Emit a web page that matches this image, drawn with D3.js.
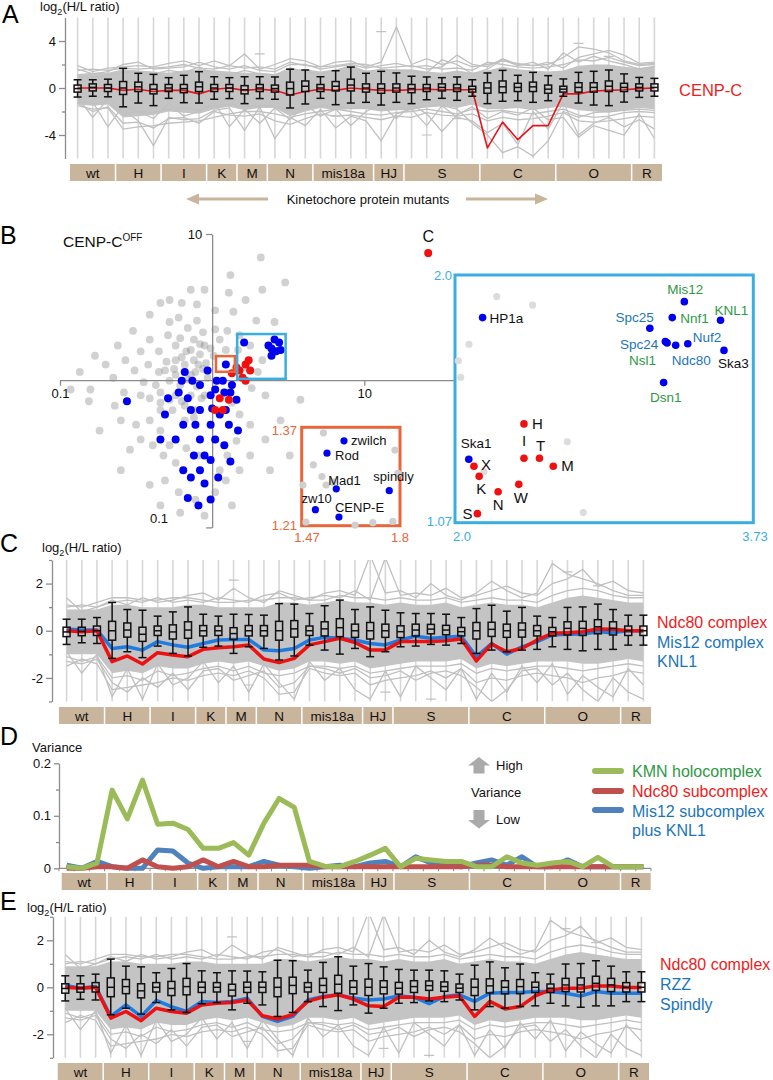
<!DOCTYPE html>
<html>
<head>
<meta charset="utf-8">
<script src="https://cdn.jsdelivr.net/npm/d3@7"></script>
<style>
body { margin: 0; background: #fff; }
svg { font-family: "Liberation Sans", Arial, sans-serif; }
.axis path, .axis line { stroke: #8c8c8c; stroke-width: 1.3; }
.axis text { font-size: 13px; fill: #111; font-family: "Liberation Sans", Arial, sans-serif; }
</style>
</head>
<body>
<script>
const W = 773, H = 1080;

// ---- mutant groups (shared by A, C, D, E) ----
const groups = ['wt', 'H', 'I', 'K', 'M', 'N', 'mis18a', 'HJ', 'S', 'C', 'O', 'R'];
const groupCols = [3, 3, 3, 2, 2, 3, 4, 2, 5, 5, 5, 2];
const nCols = d3.sum(groupCols);

// ---- panel A : log2(H/L), CENP-C off ----
const aHi  = [0.70,0.70,0.75, 1.67,1.25,1.16, 0.88,1.08,1.39, 0.96,0.88, 0.96,0.96, 0.94,1.60,1.53, 0.96,1.47,1.78,1.25, 1.42,1.28, 1.00,0.94,0.88,0.94,0.70, 1.28,1.50,1.08,1.33,1.05, 0.77,1.33,1.42,1.53,1.20, 0.90,0.82];
const aQ3  = [0.25,0.35,0.3, 0.55,0.5,0.3, 0.3,0.3,0.5, 0.3,0.3, 0.2,0.3, 0.25,0.5,0.6, 0.3,0.55,0.75,0.35, 0.35,0.35, 0.3,0.3,0.35,0.3,0.15, 0.45,0.6,0.4,0.5,0.25, 0.15,0.45,0.45,0.6,0.4, 0.35,0.35];
const aMed = [-0.05,0.05,0, 0,0.1,-0.1, 0,-0.05,0.1, 0,0, -0.15,0, -0.05,-0.05,0.15, 0,0.15,0.25,0, -0.05,0, -0.05,0,0.05,0,-0.1, 0,0.1,0.05,0.1,-0.1, -0.1,0.05,0.05,0.15,0.05, 0.05,0.05];
const aQ1  = [-0.35,-0.25,-0.3, -0.55,-0.3,-0.5, -0.3,-0.4,-0.3, -0.3,-0.3, -0.5,-0.3, -0.35,-0.6,-0.3, -0.3,-0.25,-0.25,-0.35, -0.45,-0.35, -0.4,-0.3,-0.25,-0.3,-0.35, -0.45,-0.4,-0.3,-0.3,-0.45, -0.35,-0.35,-0.35,-0.3,-0.3, -0.25,-0.25];
const aLo  = [-0.77,-0.70,-0.75, -1.60,-1.28,-1.50, -0.88,-1.25,-1.28, -0.96,-0.90, -1.33,-0.90, -0.96,-1.70,-1.36, -0.88,-1.42,-1.28,-1.22, -1.45,-1.22, -1.33,-1.00,-0.88,-1.05,-0.70, -1.33,-1.13,-1.08,-1.22,-1.08, -0.70,-1.28,-1.45,-1.50,-1.20, -0.80,-0.70];
const aBandHi = [1.2,1.3,1.3, 1.6,1.5,1.4, 1.3,1.5,1.6, 1.5,1.4, 1.3,1.3, 1.2,1.6,1.6, 1.4,1.6,1.8,1.5, 1.5,1.6, 1.6,1.4,1.3,1.5,1.3, 1.5,1.8,1.6,1.5,1.4, 1.5,1.9,2.0,2.0,1.8, 1.7,1.9];
const aBandLo = [-1.4,-1.5,-1.4, -2.5,-2.4,-2.3, -2.0,-2.1,-2.2, -1.8,-1.6, -1.9,-1.7, -1.7,-2.4,-2.0, -1.7,-1.9,-1.8,-1.8, -2.0,-1.9, -1.9,-1.6,-1.5,-1.7,-1.4, -1.8,-1.8,-1.7,-1.9,-1.7, -1.6,-1.9,-2.0,-2.1,-1.9, -1.7,-1.8];
const aGray = [
  [-1.5,-1.8,-1.7, -3.5,-3.3,-3.2, -3.0,-2.9,-2.8, -2.5,-2.2, -2.0,-2.0, -2.2,-2.5,-2.2, -2.0,-1.8,-2.0,-2.2, -2.3,-2.1, -2.0,-1.8,-2.0,-2.2,-1.8, -2.0,-1.9,-2.1,-2.2,-2.0, -1.8,-2.3,-2.5,-2.4,-2.1, -2.0,-2.1],
  [-0.8,-2.5,-0.9, -1.8,-2.8,-4.9, -2.5,-2.7,-2.6, -1.9,-1.7, -3.6,-1.6, -4.3,-2.5,-3.2, -1.8,-3.4,-2.4,-2.8, -4.5,-2.2, -1.8,-3.2,-1.5,-2.5,-2.8, -3.8,-3.0,-4.8,-2.0,-3.5, -1.2,-4.0,-3.0,-2.5,-3.3, -2.7,-3.5],
  [1.9,1.4,1.7, 1.8,1.9,1.8, 2.1,2.3,1.9, 2.3,1.9, 2.9,1.6, 2.0,2.5,2.3, 1.8,2.2,2.3,1.8, 2.2,5.2, 2.0,2.5,2.0,2.3,1.8, 2.0,2.3,2.1,1.9,2.0, 2.6,3.5,3.3,3.0,2.3, 2.0,2.1],
  [1.5,1.6,1.5, 1.7,1.6,1.7, 1.8,2.0,1.7, 1.6,1.9, 1.7,1.8, 1.6,2.2,1.9, 1.8,1.9,2.1,2.0, 1.7,1.8, 1.9,1.6,1.8,2.8,2.0, 1.8,2.5,2.0,1.9,2.2, 1.7,2.6,2.9,3.2,2.8, 2.1,2.2],
  [-1.2,-1.3,-1.2, -2.2,-2.0,-2.1, -1.8,-1.7,-1.9, -1.5,-1.4, -1.6,-1.5, -1.5,-1.9,-1.7, -1.5,-1.6,-1.7,-1.6, -1.8,-1.7, -1.7,-1.6,-1.5,-1.8,-3.0, -4.0,-5.5,-5.0,-5.8,-4.5, -2.0,-2.5,-2.1,-2.0,-1.9, -1.8,-1.9],
  [-1.0,-1.2,-3.3, -1.5,-2.0,-2.6, -1.3,-2.4,-2.0, -1.2,-3.3, -1.8,-3.0, -1.7,-2.7,-1.4, -2.4,-1.8,-3.2,-2.0, -1.4,-2.6, -1.4,-2.2,-3.7,-2.3,-1.6, -2.6,-2.0,-2.3,-1.7,-2.7, -2.5,-4.2,-3.2,-3.6,-4.0, -2.2,-4.3],
  [1.0,0.9,1.1, 1.3,1.4,1.2, 1.5,1.3,1.8, 1.2,1.1, 1.5,1.2, 1.1,1.7,1.4, 1.2,1.5,1.9,1.4, 1.6,1.5, 1.4,1.3,2.4,2.0,1.2, 1.6,2.4,1.9,2.2,1.6, 3.0,2.2,2.7,2.3,2.0, 1.6,1.8],
  [-1.3,-2.0,-1.6, -3.0,-2.9,-3.4, -2.6,-2.5,-3.0, -2.0,-2.3, -2.4,-2.2, -2.8,-3.1,-2.6, -2.2,-2.4,-2.3,-2.5, -2.7,-2.4, -2.5,-2.1,-2.3,-2.4,-2.2, -2.8,-2.5,-2.7,-2.6,-2.4, -2.1,-2.8,-2.9,-2.8,-2.6, -2.4,-2.5],
  [1.6,1.2,1.4, 2.0,2.2,1.6, 1.7,1.8,2.2, 1.8,1.6, 1.9,1.5, 1.4,2.0,2.0, 1.6,1.8,2.0,1.7, 1.9,2.1, 1.8,1.9,1.6,1.7,1.5, 2.2,2.0,1.8,1.7,1.8, 2.0,2.4,2.3,2.6,2.2, 1.9,2.0]
];
const aDashCols = [12, 20, 17, 23, 33, 35, 25];
const aDashVals = [2.9, 4.8, -2.4, -4.0, 3.8, 2.7, -2.6];
const aCenpC = [0,0,0, -0.2,-0.1,-0.3, -0.2,-0.2,-0.5, -0.1,0, -0.2,-0.1, -0.2,-0.6,-0.3, -0.1,-0.2,0,-0.1, -0.2,-0.2, -0.15,-0.1,-0.15,-0.15,-0.15, -5.1,-2.9,-4.4,-3.2,-3.2, -0.5,-0.5,-0.25,-0.2,-0.15, -0.05,0];

// ---- panels C and E share the proteome distribution ----
const ceHi  = [0.49,0.49,0.56, 1.2,0.9,0.87, 0.62,0.8,1.01, 0.7,0.62, 0.7,0.69, 0.66,1.15,1.13, 0.73,1.06,1.3,0.9, 1.01,0.87, 0.76,0.73,0.73,0.7,0.56, 0.94,1.08,0.83,0.99,0.62, 0.56,0.99,1.01,1.13,0.9, 0.66,0.66];
const ceQ3  = [0.15,0.15,0.2, 0.4,0.33,0.15, 0.2,0.25,0.38, 0.22,0.2, 0.13,0.22, 0.22,0.4,0.43, 0.2,0.38,0.51,0.28, 0.35,0.28, 0.21,0.28,0.27,0.23,0.14, 0.35,0.36,0.28,0.33,0.22, 0.14,0.38,0.4,0.47,0.38, 0.2,0.2];
const ceMed = [-0.05,-0.03,0, 0,0.03,-0.15, 0,-0.05,0.03, 0,0, -0.12,0, 0,0,0.08, 0,0.08,0.13,0, 0,0, -0.04,0.03,0.07,0.03,-0.04, 0,0.06,0,0.03,0, -0.04,0.1,0.1,0.17,0.1, 0,0];
const ceQ1  = [-0.25,-0.21,-0.2, -0.4,-0.27,-0.45, -0.2,-0.35,-0.32, -0.22,-0.2, -0.37,-0.22, -0.22,-0.4,-0.27, -0.2,-0.22,-0.25,-0.28, -0.35,-0.28, -0.29,-0.22,-0.13,-0.17,-0.22, -0.35,-0.24,-0.28,-0.27,-0.22, -0.22,-0.18,-0.2,-0.13,-0.18, -0.2,-0.2];
const ceLo  = [-0.58,-0.51,-0.54, -1.17,-0.89,-1.14, -0.65,-0.96,-1.07, -0.7,-0.65, -0.96,-0.68, -0.75,-1.24,-1.07, -0.61,-0.82,-0.99,-0.75, -1.1,-0.89, -0.68,-0.65,-0.58,-0.61,-0.54, -0.96,-0.82,-0.89,-0.82,-0.79, -0.68,-0.79,-0.85,-0.79,-0.79, -0.61,-0.61];
const ceBandHi = [0.9,0.9,0.9, 1.1,1.1,1.0, 1.0,1.0,1.1, 1.1,1.0, 1.0,1.0, 1.0,1.2,1.2, 1.1,1.2,1.3,1.2, 1.2,1.1, 1.2,1.1,1.1,1.2,1.0, 1.1,1.2,1.1,1.1,1.0, 1.2,1.4,1.5,1.4,1.3, 1.2,1.2];
const ceBandLo = [-1.0,-1.0,-1.0, -1.8,-1.7,-1.8, -1.5,-1.6,-1.6, -1.4,-1.3, -1.4,-1.3, -1.5,-1.7,-1.6, -1.3,-1.3,-1.4,-1.3, -1.6,-1.5, -1.4,-1.3,-1.3,-1.3,-1.2, -1.6,-1.4,-1.5,-1.4,-1.3, -1.3,-1.3,-1.4,-1.4,-1.3, -1.2,-1.3];
const ceGray = [
  [-1.5,-1.2,-1.4, -2.5,-2.4,-2.3, -2.2,-2.0,-2.1, -1.9,-1.8, -1.9,-1.7, -2.0,-2.7,-2.6, -1.6,-1.8,-1.9,-1.8, -2.3,-2.1, -2.0,-1.9,-1.7,-2.0,-1.6, -2.2,-2.0,-2.1,-1.9,-1.8, -1.9,-2.0,-2.2,-2.0,-1.9, -1.7,-1.8],
  [-0.9,-1.8,-1.0, -2.8,-1.6,-2.9, -1.4,-2.3,-2.0, -1.3,-2.2, -1.5,-2.6, -1.4,-2.2,-2.9, -1.3,-2.1,-1.6,-2.5, -2.9,-1.7, -2.8,-1.5,-2.0,-2.5,-1.6, -2.9,-1.8,-2.6,-1.5,-2.2, -1.4,-2.7,-1.9,-2.4,-2.8, -1.6,-2.3],
  [1.4,0.8,1.0, 1.3,1.1,1.4, 1.2,1.3,1.5, 1.6,1.3, 1.8,1.4, 1.2,1.7,1.5, 1.3,1.6,1.7,1.5, 3.2,1.6, 1.7,1.4,2.0,1.5,1.3, 1.6,2.1,1.7,1.4,1.6, 2.85,2.4,2.2,2.0,1.7, 1.5,1.5],
  [1.0,1.1,1.0, 1.2,1.3,1.2, 1.4,1.2,1.3, 1.2,1.4, 1.3,1.2, 1.5,1.6,1.3, 1.4,1.5,1.4,1.7, 1.3,3.1, 1.5,1.6,1.5,1.8,1.4, 1.5,1.7,1.9,1.6,1.5, 2.0,2.2,2.6,1.9,2.1, 1.7,1.6],
  [-1.3,-1.4,-1.2, -2.2,-2.6,-2.0, -2.4,-1.8,-2.5, -1.7,-1.6, -2.1,-1.9, -1.7,-2.4,-2.2, -1.5,-1.6,-1.8,-1.6, -2.0,-1.9, -1.7,-2.1,-1.8,-1.7,-1.9, -2.4,-3.0,-2.5,-1.7,-1.6, -2.3,-1.8,-2.5,-3.0,-2.0, -2.6,-2.9],
  [-1.1,-1.3,-1.1, -2.0,-1.9,-2.1, -1.7,-1.9,-1.8, -1.6,-1.5, -1.7,-1.5, -1.8,-1.9,-1.8, -1.5,-1.5,-1.6,-1.5, -1.8,-1.7, -1.6,-1.5,-1.5,-1.5,-1.4, -1.8,-1.6,-1.7,-1.6,-1.5, -1.5,-1.6,-1.7,-1.6,-1.5, -1.4,-1.5],
  [1.1,1.0,1.2, 1.4,1.4,1.3, 1.3,1.4,1.4, 1.3,1.2, 1.2,1.3, 1.3,1.4,1.4, 1.3,1.3,1.5,1.4, 1.4,1.3, 1.4,1.3,1.3,1.4,1.2, 1.3,1.4,1.3,1.3,1.2, 1.5,1.7,1.8,1.7,1.5, 1.4,1.4]
];
const ceDashCols = [11, 21, 24, 33, 35, 12];
const ceDashVals = [2.15, -2.6, -2.9, 2.5, 1.9, -2.3];

// C: KMN members
const cNdc80 = [0,-0.04,0, -1.31,-1.07,-1.41, -0.93,-1.03,-1.1, -0.79,-0.72, -0.68,-0.6, -1.2,-1.35,-1.17, -0.6,-0.46,-0.32,-0.5, -0.82,-0.82, -0.46,-0.46,-0.46,-0.42,-0.35, -1.28,-0.56,-0.89,-0.75,-0.39, -0.11,-0.08,-0.04,0.07,0.06, 0,0];
const cMis12 = [0.07,0.03,0.03, -0.75,-0.68,-0.82, -0.46,-0.6,-0.7, -0.54,-0.39, -0.37,-0.37, -0.82,-0.85,-0.75, -0.39,-0.28,-0.32,-0.39, -0.54,-0.6, -0.39,-0.23,-0.32,-0.28,-0.23, -1.1,-0.54,-0.99,-0.68,-0.46, -0.18,-0.15,-0.14,-0.04,-0.08, 0,0];
// E: Ndc80 vs RZZ/Spindly
const eNdc80 = [0,-0.04,0, -1.31,-1.03,-1.42, -0.89,-1.03,-1.1, -0.75,-0.68, -0.65,-0.54, -1.21,-1.35,-1.17, -0.6,-0.42,-0.32,-0.5, -0.79,-0.82, -0.42,-0.42,-0.5,-0.42,-0.37, -1.24,-0.6,-0.92,-0.82,-0.37, -0.11,-0.04,-0.04,0.06,0.06, -0.01,-0.01];
const eRZZ = [0.08,-0.04,0.03, -1.24,-0.75,-1.24, -0.56,-0.82,-1.03, -0.6,-0.65, -0.6,-0.46, -1.24,-1.45,-1.24, -0.54,-0.39,-0.32,-0.46, -0.54,-0.5, -0.37,-0.42,-0.7,-0.39,-0.32, -0.6,-0.25,-0.22,-0.22,-0.18, -0.18,-0.25,-0.37,-0.18,-0.25, -0.25,-0.25];

// ---- panel D : variance ----
const dKMN   = [0.003,0,0.01, 0.149,0.094,0.168, 0.084,0.086,0.074, 0.038,0.038, 0.049,0.025, 0.086,0.133,0.116, 0.013,0.004,0.003,0.013, 0.025,0.038, 0.003,0.019,0.016,0.013,0.013, 0.003,0.003,0.022,0.010,0.006, 0.010,0.013,0.003,0.021,0.003, 0.003,0.003];
const dNdc80 = [0,0,0.003, 0.003,0,0.016, 0.003,0,0.003, 0.016,0.003, 0.013,0.003, 0.003,0.006,0.006, 0.006,0.003,0.003,0.003, 0.003,0.003, 0.003,0.003,0.003,0.003,0.003, 0.006,0.006,0.003,0.003,0.003, 0.003,0.003,0.003,0.003,0.003, 0.003,0.003];
const dMis12 = [0.006,0,0.013, 0.003,0,0, 0.035,0.033,0.01, 0,0.003, 0.003,0.003, 0.013,0.006,0.003, 0,0.003,0.006,0.003, 0.01,0.013, 0.003,0.022,0.01,0.01,0.003, 0.01,0.016,0.006,0.022,0.003, 0.003,0.016,0.003,0.003,0.003, 0.003,0.003];

// ---- panel B : scatter, log10(H/L) of CENP-C off vs. other mutants ----
const grayLog = [[0.32,0.84],[0.48,0.67],[0.12,0.72],[-0.2,0.53],[-0.1,0.52],[0.11,0.6],[0.14,0.47],[0.29,0.41],[0.41,0.4],[-0.34,0.53],
  [-0.28,0.4],[-0.21,0.29],[-0.1,0.41],[-0.05,0.24],[-0.41,0.28],[-0.47,0.2],[-0.57,0.14],[-0.65,0.02],[-0.8,-0.06],[-0.58,-0.08],
  [-0.47,-0.1],[-0.37,-0.03],[-0.31,0.07],[-0.24,0.14],[-0.18,0.11],[-0.11,0.06],[-0.08,0.18],[0.09,0.21],[0.22,0.09],[0.26,-0.05],
  [0.35,-0.1],[-0.41,-0.27],[-0.34,-0.34],[-0.28,-0.44],[-0.47,-0.4],[-0.54,-0.47],[-0.11,-0.81],[-0.05,-0.92],[0.09,-0.68],[0.18,-0.61],
  [0.35,-0.4],[0.45,-0.27],[0.58,-0.13],[-0.6,-0.27],[-0.74,-0.34],[-0.31,-0.68],[-0.18,-0.27],[-0.11,-0.2],[-0.05,-0.1],[-0.21,-0.03],
  [-0.14,-0.1],[-0.28,-0.13],[-0.34,-0.2],[-0.24,0.04],[-0.14,0.21],[0.02,0.35],[0.18,0.31],
  [-0.29,0.31],[-0.24,0.24],[-0.17,0.2],[-0.12,0.28],[-0.06,0.33],[-0.01,0.22],[-0.16,0.36],[-0.22,0.43],[-0.35,0.2],[-0.3,0.13],
  [-0.35,0.06],[-0.42,0.11],[-0.51,0.07],[-0.45,-0.01],[-0.28,0],[-0.34,-0.08],[-0.24,-0.1],[-0.18,-0.17],[-0.26,-0.2],[-0.34,-0.15],
  [-0.41,-0.12],[-0.14,0.04],[-0.09,0.11],[-0.03,0.02],[-0.07,-0.12],[0.01,0.17],[0.05,0.28],[0.1,0.34],[0.17,0.21],[0.25,0.24],
  [0.33,0.14],[0.3,0.06],[0.13,-0.15],[0.18,-0.23],[0.25,-0.3],[0.16,-0.41],[0.25,-0.51],[0.1,-0.51],[0.05,-0.61],[-0.09,-0.51],
  [-0.17,-0.46],[-0.24,-0.56],[-0.32,-0.51],[-0.39,-0.44],[-0.5,-0.3],[-0.64,-0.17],[-0.7,0.11],[-0.77,0.17],[-0.87,0.06],[-0.81,-0.14],
  [-0.93,-0.06],[-0.41,-0.71],[-0.22,-0.76],[0.02,-0.76],[0.13,-0.85],[-0.21,-0.9],[-0.34,-0.85],[-0.6,-0.61],[0.38,-0.61],[0.51,-0.51],
  [0.64,-0.34],[-0.05,0.62],[0.02,0.48],[0.22,0.55],[0.33,0.62],[-0.14,0.62],[-0.28,0.55],[-0.41,0.45],[-0.52,0.34],[-0.62,0.24],
  [-0.2,0.16],[-0.12,0.14],[-0.06,0.08],[-0.16,0.01],[-0.1,-0.04],[-0.2,-0.14],[-0.12,-0.25],[-0.04,0.12],[-0.25,0.08],[-0.08,0.25]];
const blueLog = [[-0.56,-0.14],[-0.2,0],[-0.16,-0.12],[-0.08,-0.03],[-0.03,0.07],[0.07,0],[0.12,-0.08],[-0.01,-0.1],[-0.08,-0.2],[0.05,-0.23],
  [-0.11,-0.3],[-0.01,-0.3],[0.11,-0.3],[-0.08,-0.4],[0.02,-0.4],[-0.05,-0.51],[-0.08,-0.61],[-0.14,-0.66],[-0.31,-0.23],[-0.24,-0.4],
  [-0.19,-0.61],[-0.01,-0.81],[-0.09,-0.85],[0.03,0],[0.09,0.11],[0.21,0.26],[0.37,0.24],[0.39,0.22],[0.41,0.28],[0.44,0.26],
  [0.42,0.2],[0.39,0.17],[0.45,0.21],
  [-0.18,0.06],[-0.13,0],[-0.22,-0.08],[0.02,-0.06],[0.08,-0.08],[0.13,-0.03],[0.16,-0.13],[0.09,-0.2],[0,-0.19],[-0.14,-0.2],
  [-0.19,-0.3],[0.17,-0.34],[0.08,-0.44],[-0.01,-0.54],[-0.12,-0.51],[0.12,-0.55],[0.04,-0.66],[-0.05,-0.7],[-0.16,-0.8],[-0.29,-0.12],
  [-0.34,-0.4]];
const redLog = [[0.05,-0.12],[0.02,-0.2],[0.07,-0.2],[0.11,-0.13],[0.18,0.07],[0.22,0.11],[0.25,0.07],[0.2,0.02],[0.24,0.14],[0.16,0.09],
  [0.13,0.05],[0.22,0],[1.42,0.87]];
// zoom windows marked on the scatter (H/L ratio units)
const blueZoomX = [1.46, 3.04], blueZoomY = [1.03, 2.08];
const orangeZoomX = [1.06, 1.41], orangeZoomY = [1.15, 1.47];

// blue inset (x 2.0-3.73, y 1.07-2.0)
const insetNames = ['HP1a','Mis12','Nnf1','KNL1','Spc25','Spc24','Nsl1','Ndc80','Nuf2','Ska3','Dsn1','Ska1','H','I','T','M','X','K','N','W','S'];
const insetX = [2.16,3.33,3.26,3.54,3.13,3.22,3.23,3.28,3.35,3.56,3.21,2.08,2.40,2.40,2.49,2.57,2.11,2.14,2.25,2.37,2.13];
const insetY = [1.84,1.90,1.84,1.83,1.80,1.75,1.745,1.736,1.742,1.717,1.596,1.308,1.441,1.312,1.312,1.282,1.282,1.244,1.186,1.214,1.104];
const insetKind = ['b','b','b','b','b','b','b','b','b','b','b','b','r','r','r','r','r','r','r','r','r'];
const insetGrayX = [2.242,2.45,2.081,2.019,2.033,2.651,2.744,2.168];
const insetGrayY = [1.919,1.887,1.74,1.678,1.616,1.374,1.108,1.262];
// orange inset (x 1.47-1.8, y 1.21-1.37)
const orNames = ['zwilch','Rod','Mad1','spindly','zw10','CENP-E'];
const orX = [1.612,1.555,1.586,1.764,1.516,1.595];
const orY = [1.348,1.328,1.27,1.267,1.236,1.224];
const orGrayX = [1.543,1.783,1.509,1.538,1.552,1.575,1.793,1.474,1.776,1.649,1.709,1.484];
const orGrayY = [1.361,1.333,1.309,1.29,1.276,1.281,1.295,1.276,1.217,1.211,1.215,1.216];

// ---- styling ----
const BAR = '#c9b49c', RED = '#ee1c1c', BLUE = '#1b75bc', GREEN = '#2e9946', LB = '#3aaee0', OR = '#e8663a';
const labelStyle = {
  HP1a: [7,5,'start','#111'], Mis12: [1,-8,'middle',GREEN], Nnf1: [8,5,'start',GREEN], KNL1: [-6,-5,'start',GREEN],
  Spc25: [4,-6,'end',BLUE], Spc24: [-7,7,'end',BLUE], Nsl1: [-11,22,'end',GREEN], Ndc80: [-4,20,'start',BLUE],
  Nuf2: [5,-2,'start',BLUE], Ska3: [-6,18,'start','#111'], Dsn1: [2,19,'middle',GREEN], Ska1: [-8,-11,'start','#111'],
  H: [8,5,'start','#111'], I: [0,-12,'middle','#111'], T: [1,-7,'middle','#111'], M: [8,5,'start','#111'],
  X: [7,4,'start','#111'], K: [2,18,'middle','#111'], N: [0,18,'middle','#111'], W: [2,19,'middle','#111'], S: [-5,5,'end','#111'],
  zwilch: [7,4,'start'], Rod: [8,7,'start'], Mad1: [-8,-4,'start'], spindly: [-16,-10,'start'], zw10: [-14,-7,'start'], 'CENP-E': [-4,-5,'start']
};

const svg = d3.select('body').append('svg').attr('width', W).attr('height', H);

function catBar(x0, x1, top, h) {
  const x = d3.scaleLinear().domain([0, nCols]).range([x0, x1]);
  const edges = Array.from(d3.cumsum([0, ...groupCols]));
  const segs = groups.map((name, k) => ({ name, a: edges[k], b: edges[k + 1] }));
  const g = svg.append('g');
  g.append('rect').attr('x', x0).attr('y', top).attr('width', x1 - x0).attr('height', h).attr('fill', BAR);
  g.selectAll('line').data(edges.slice(1, -1)).join('line')
    .attr('x1', d => x(d)).attr('x2', d => x(d)).attr('y1', top).attr('y2', top + h)
    .attr('stroke', '#fff').attr('stroke-width', 1.5);
  g.selectAll('text').data(segs).join('text')
    .attr('x', d => (x(d.a) + x(d.b)) / 2).attr('y', top + h / 2 + 5)
    .attr('text-anchor', 'middle').attr('font-size', 13.5).attr('fill', '#111').text(d => d.name);
}

function panelLetter(t, x, y) {
  svg.append('text').attr('x', x).attr('y', y).attr('font-size', 25).attr('fill', '#000').text(t);
}

function log2Title(x, y) {
  const t = svg.append('text').attr('x', x).attr('y', y).attr('font-size', 13).attr('fill', '#111');
  t.append('tspan').text('log');
  t.append('tspan').attr('font-size', 9).attr('dy', 4).text('2');
  t.append('tspan').attr('dy', -4).text('(H/L ratio)');
}

function profilePanel(c) {
  const g = svg.append('g');
  const x = d3.scaleBand().domain(d3.range(nCols)).range([c.x0, c.x1]);
  const cx = i => x(i) + x.bandwidth() / 2;
  const y = d3.scaleLinear().domain([-c.ymax, c.ymax]).range([c.yBot, c.yTop]);

  g.append('clipPath').attr('id', 'clip' + c.id).append('rect')
    .attr('x', c.axisX).attr('y', c.yTop).attr('width', c.x1 - c.axisX).attr('height', c.yBot - c.yTop);

  g.selectAll('.vg').data(d3.range(nCols)).join('line').attr('class', 'vg')
    .attr('x1', cx).attr('x2', cx).attr('y1', c.yTop).attr('y2', c.yBot)
    .attr('stroke', '#d7d7d7').attr('stroke-width', 1.6);

  const body = g.append('g').attr('clip-path', `url(#clip${c.id})`);
  body.append('path').datum(d3.range(nCols))
    .attr('d', d3.area().x(cx).y0(i => y(c.bandLo[i])).y1(i => y(c.bandHi[i])))
    .attr('fill', '#c4c4c4');
  const line = d3.line().x((v, i) => cx(i)).y(v => y(v));
  body.selectAll('.gl').data(c.gray).join('path').attr('class', 'gl')
    .attr('d', line).attr('fill', 'none').attr('stroke', '#c0c0c0').attr('stroke-width', 1.3);
  body.selectAll('.dash').data(c.dashCols).join('line').attr('class', 'dash')
    .attr('x1', d => cx(d) - 5).attr('x2', d => cx(d) + 5)
    .attr('y1', (d, k) => y(c.dashVals[k])).attr('y2', (d, k) => y(c.dashVals[k]))
    .attr('stroke', '#c2c2c2').attr('stroke-width', 1.2);

  c.lines.forEach(l => {
    body.append('path').attr('d', line(l.vals)).attr('fill', 'none')
      .attr('stroke', l.color).attr('stroke-width', l.width).attr('stroke-linejoin', 'round');
  });

  const rows = d3.range(nCols).map(i => ({ i, lo: c.box[0][i], q1: c.box[1][i], med: c.box[2][i], q3: c.box[3][i], hi: c.box[4][i] }));
  const b = g.selectAll('.bx').data(rows).join('g').attr('class', 'bx')
    .attr('transform', d => `translate(${cx(d.i)},0)`)
    .attr('stroke', '#111').attr('stroke-width', 1.5).attr('fill', 'none');
  b.append('line').attr('y1', d => y(d.hi)).attr('y2', d => y(d.q3));
  b.append('line').attr('y1', d => y(d.q1)).attr('y2', d => y(d.lo));
  b.append('line').attr('x1', -4).attr('x2', 4).attr('y1', d => y(d.hi)).attr('y2', d => y(d.hi));
  b.append('line').attr('x1', -4).attr('x2', 4).attr('y1', d => y(d.lo)).attr('y2', d => y(d.lo));
  b.append('rect').attr('x', -3.5).attr('width', 7).attr('y', d => y(d.q3)).attr('height', d => y(d.q1) - y(d.q3));
  b.append('line').attr('x1', -3.5).attr('x2', 3.5).attr('y1', d => y(d.med)).attr('y2', d => y(d.med));

  g.append('g').attr('class', 'axis').attr('transform', `translate(${c.axisX},0)`)
    .call(d3.axisLeft(y).tickValues(c.majors).tickSize(6).tickSizeOuter(0).tickFormat(d => String(d)));
  g.append('g').attr('class', 'axis').attr('transform', `translate(${c.axisX},0)`)
    .call(d3.axisLeft(y).tickValues(c.minors).tickSize(3).tickFormat(''))
    .select('.domain').remove();

  catBar(c.x0, c.x1, c.barTop, 17);
}

// ===== Panel A =====
panelLetter('A', 2, 23);
log2Title(40, 11);
profilePanel({
  id: 'A', x0: 70, x1: 662, yTop: 17.5, yBot: 158.5, ymax: 6, axisX: 65, barTop: 164,
  majors: [4, 0, -4], minors: [2, -2],
  bandHi: aBandHi, bandLo: aBandLo, gray: aGray, dashCols: aDashCols, dashVals: aDashVals,
  lines: [{ vals: aCenpC, color: '#e8141c', width: 1.6 }],
  box: [aLo, aQ1, aMed, aQ3, aHi]
});
svg.append('text').attr('x', 679).attr('y', 96).attr('font-size', 16.5).attr('fill', RED).text('CENP-C');

// arrows: kinetochore protein mutants
const arrowG = svg.append('g').attr('fill', BAR).attr('stroke', BAR);
arrowG.append('line').attr('x1', 196).attr('x2', 268).attr('y1', 199).attr('y2', 199).attr('stroke-width', 3);
arrowG.append('path').attr('d', 'M186,199 L199,193.5 L199,204.5 Z').attr('stroke', 'none');
arrowG.append('line').attr('x1', 466).attr('x2', 538).attr('y1', 199).attr('y2', 199).attr('stroke-width', 3);
arrowG.append('path').attr('d', 'M548,199 L535,193.5 L535,204.5 Z').attr('stroke', 'none');
svg.append('text').attr('x', 368).attr('y', 204).attr('text-anchor', 'middle').attr('font-size', 13).attr('fill', '#111')
  .text('Kinetochore protein mutants');

// ===== Panel B =====
panelLetter('B', 0, 244);
const tOff = svg.append('text').attr('x', 63).attr('y', 247).attr('font-size', 15.5).attr('fill', '#111');
tOff.append('tspan').text('CENP-C');
tOff.append('tspan').attr('font-size', 10).attr('dy', -6).text('OFF');

const xS = d3.scaleLog().domain([0.1, 10]).range([60, 364.3]);
const yS = d3.scaleLog().domain([0.1, 10]).range([527.4, 234]);
const bG = svg.append('g');
const yAx = bG.append('g').attr('class', 'axis').attr('transform', `translate(${xS(1)},0)`)
  .call(d3.axisLeft(yS).tickValues([0.1, 10]).tickSize(6).tickSizeOuter(0).tickFormat(d => d === 10 ? '10' : ''));
yAx.selectAll('.tick text').attr('x', -10);
bG.append('text').attr('x', 168).attr('y', 523).attr('text-anchor', 'end').attr('font-size', 13).attr('fill', '#111').text('0.1');
const xAx = bG.append('g').attr('class', 'axis').attr('transform', `translate(0,${yS(1)})`)
  .call(d3.axisBottom(xS).tickValues([0.1, 10]).tickSize(5).tickSizeOuter(0).tickFormat(d => d === 10 ? '10' : '0.1'));
xAx.select('.domain').remove();
bG.append('line').attr('x1', xS(0.1)).attr('x2', 455).attr('y1', yS(1)).attr('y2', yS(1))
  .attr('stroke', '#8c8c8c').attr('stroke-width', 1.3);

bG.selectAll('.gp').data(grayLog).join('circle').attr('class', 'gp')
  .attr('cx', d => xS(10 ** d[0])).attr('cy', d => yS(10 ** d[1])).attr('r', 3.9)
  .attr('fill', '#808080').attr('fill-opacity', 0.36);
bG.selectAll('.bp').data(blueLog).join('circle').attr('class', 'bp')
  .attr('cx', d => xS(10 ** d[0])).attr('cy', d => yS(10 ** d[1])).attr('r', 4).attr('fill', '#0000f0');
bG.selectAll('.rp').data(redLog).join('circle').attr('class', 'rp')
  .attr('cx', d => xS(10 ** d[0])).attr('cy', d => yS(10 ** d[1])).attr('r', 4).attr('fill', '#f01010');
bG.append('text').attr('x', xS(10 ** 1.42)).attr('y', yS(10 ** 0.87) - 11).attr('text-anchor', 'middle')
  .attr('font-size', 16).attr('fill', '#111').text('C');

bG.append('rect').attr('x', xS(blueZoomX[0])).attr('y', yS(blueZoomY[1]))
  .attr('width', xS(blueZoomX[1]) - xS(blueZoomX[0])).attr('height', yS(blueZoomY[0]) - yS(blueZoomY[1]))
  .attr('fill', 'none').attr('stroke', LB).attr('stroke-width', 2.5);
bG.append('rect').attr('x', xS(orangeZoomX[0])).attr('y', yS(orangeZoomY[1]))
  .attr('width', xS(orangeZoomX[1]) - xS(orangeZoomX[0])).attr('height', yS(orangeZoomY[0]) - yS(orangeZoomY[1]))
  .attr('fill', 'none').attr('stroke', OR).attr('stroke-width', 2.5);

// blue inset
const ix = d3.scaleLinear().domain([2.0, 3.73]).range([455, 753.3]);
const iy = d3.scaleLinear().domain([1.07, 2.0]).range([522.7, 275]);
const inG = svg.append('g');
inG.append('rect').attr('x', 455).attr('y', 275).attr('width', 298.3).attr('height', 247.7)
  .attr('fill', '#fff').attr('stroke', LB).attr('stroke-width', 3);
inG.selectAll('.ig').data(insetGrayX).join('circle').attr('class', 'ig')
  .attr('cx', d => ix(d)).attr('cy', (d, k) => iy(insetGrayY[k])).attr('r', 3.6).attr('fill', '#dcdcdc');
const inPts = inG.selectAll('.ip').data(insetNames).join('g').attr('class', 'ip')
  .attr('transform', (d, k) => `translate(${ix(insetX[k])},${iy(insetY[k])})`);
inPts.append('circle').attr('r', 3.8).attr('fill', (d, k) => insetKind[k] === 'b' ? '#0000f0' : '#f01010');
inPts.append('text').attr('x', d => labelStyle[d][0]).attr('y', d => labelStyle[d][1])
  .attr('text-anchor', d => labelStyle[d][2]).attr('fill', d => labelStyle[d][3])
  .attr('font-size', (d, k) => insetKind[k] === 'b' ? 13.5 : 15).text(d => d);
[['2.0', 452, 280, 'end'], ['1.07', 452, 526, 'end'], ['2.0', 462, 541, 'middle'], ['3.73', 755, 541, 'middle']].forEach(t => {
  inG.append('text').attr('x', t[1]).attr('y', t[2]).attr('text-anchor', t[3]).attr('font-size', 13).attr('fill', LB).text(t[0]);
});

// orange inset
const ox = d3.scaleLinear().domain([1.47, 1.8]).range([301.7, 400]);
const oy = d3.scaleLinear().domain([1.21, 1.37]).range([525.7, 427.3]);
const orG = svg.append('g');
orG.append('rect').attr('x', 301.7).attr('y', 427.3).attr('width', 98.3).attr('height', 98.4)
  .attr('fill', '#fff').attr('stroke', OR).attr('stroke-width', 3);
orG.selectAll('.og').data(orGrayX).join('circle').attr('class', 'og')
  .attr('cx', d => ox(d)).attr('cy', (d, k) => oy(orGrayY[k])).attr('r', 3.6).attr('fill', '#cfcfcf');
const orPts = orG.selectAll('.op').data(orNames).join('g').attr('class', 'op')
  .attr('transform', (d, k) => `translate(${ox(orX[k])},${oy(orY[k])})`);
orPts.append('circle').attr('r', 3.6).attr('fill', '#0000f0');
orPts.append('text').attr('x', d => labelStyle[d][0]).attr('y', d => labelStyle[d][1])
  .attr('text-anchor', d => labelStyle[d][2]).attr('font-size', 13).attr('fill', '#111').text(d => d);
[['1.37', 297, 435, 'end'], ['1.21', 297, 530, 'end'], ['1.47', 307, 542, 'middle'], ['1.8', 400, 542, 'middle']].forEach(t => {
  orG.append('text').attr('x', t[1]).attr('y', t[2]).attr('text-anchor', t[3]).attr('font-size', 13).attr('fill', OR).text(t[0]);
});

// ===== Panel C =====
panelLetter('C', 0, 552);
log2Title(42, 552);
profilePanel({
  id: 'C', x0: 59, x1: 651, yTop: 560, yBot: 701.5, ymax: 3, axisX: 52, barTop: 707,
  majors: [2, 0, -2], minors: [3, 1, -1, -3],
  bandHi: ceBandHi, bandLo: ceBandLo, gray: ceGray, dashCols: ceDashCols, dashVals: ceDashVals,
  lines: [{ vals: cMis12, color: '#1f7be0', width: 3.5 }, { vals: cNdc80, color: '#ee1111', width: 3.5 }],
  box: [ceLo, ceQ1, ceMed, ceQ3, ceHi]
});
[['Ndc80 complex', 628, RED], ['Mis12 complex', 648, BLUE], ['KNL1', 667, BLUE]].forEach(t => {
  svg.append('text').attr('x', 657).attr('y', t[1]).attr('font-size', 16).attr('fill', t[2]).text(t[0]);
});

// ===== Panel D =====
panelLetter('D', 0, 745);
svg.append('text').attr('x', 32).attr('y', 752).attr('font-size', 13).attr('fill', '#111').text('Variance');
{
  const x = d3.scaleBand().domain(d3.range(nCols)).range([59, 651]);
  const cx = i => x(i) + x.bandwidth() / 2;
  const y = d3.scaleLinear().domain([0, 0.2]).range([868.3, 763.3]);
  const g = svg.append('g');
  g.append('g').attr('class', 'axis').attr('transform', 'translate(59,0)')
    .call(d3.axisLeft(y).tickValues([0, 0.1, 0.2]).tickSize(5).tickSizeOuter(0).tickFormat(d => d === 0 ? '0' : String(d)));
  g.append('g').attr('class', 'axis').attr('transform', 'translate(59,0)')
    .call(d3.axisLeft(y).tickValues([0.05, 0.15]).tickSize(3).tickFormat('')).select('.domain').remove();
  g.append('line').attr('x1', 59).attr('x2', 651).attr('y1', y(0)).attr('y2', y(0)).attr('stroke', '#8c8c8c').attr('stroke-width', 1.3);
  g.selectAll('.xt').data(d3.range(nCols + 1)).join('line').attr('class', 'xt')
    .attr('x1', i => 59 + i * x.step()).attr('x2', i => 59 + i * x.step())
    .attr('y1', y(0)).attr('y2', y(0) + 3).attr('stroke', '#8c8c8c');
  const line = d3.line().x((v, i) => cx(i)).y(v => y(v));
  [[dMis12, '#4f81bd'], [dNdc80, '#c0504d'], [dKMN, '#9bbb59']].forEach(s => {
    g.append('path').attr('d', line(s[0])).attr('fill', 'none').attr('stroke', s[1])
      .attr('stroke-width', 5).attr('stroke-linejoin', 'round');
  });
  catBar(61.7, 650.7, 873, 17);

  // legend
  [['KMN holocomplex', 777, '#9bbb59', GREEN, 771], ['Ndc80 subcomplex', 797, '#c0504d', RED, 791], ['Mis12 subcomplex', 817, '#4f81bd', BLUE, 810]].forEach(t => {
    g.append('line').attr('x1', 595).attr('x2', 621).attr('y1', t[4]).attr('y2', t[4])
      .attr('stroke', t[2]).attr('stroke-width', 6).attr('stroke-linecap', 'round');
    g.append('text').attr('x', 632).attr('y', t[1]).attr('font-size', 16).attr('fill', t[3]).text(t[0]);
  });
  g.append('text').attr('x', 632).attr('y', 836).attr('font-size', 16).attr('fill', BLUE).text('plus KNL1');

  // high / low arrows
  g.append('path').attr('d', 'M479,757 L490,765.5 L484.5,765.5 L484.5,773.5 L473.5,773.5 L473.5,765.5 L468,765.5 Z').attr('fill', '#aaa');
  g.append('path').attr('d', 'M479,828.5 L490,820 L484.5,820 L484.5,810 L473.5,810 L473.5,820 L468,820 Z').attr('fill', '#aaa');
  g.append('text').attr('x', 496).attr('y', 770).attr('font-size', 13).attr('fill', '#111').text('High');
  g.append('text').attr('x', 471).attr('y', 797).attr('font-size', 13).attr('fill', '#111').text('Variance');
  g.append('text').attr('x', 496).attr('y', 824).attr('font-size', 13).attr('fill', '#111').text('Low');
}

// ===== Panel E =====
panelLetter('E', 0, 910);
log2Title(27, 912);
profilePanel({
  id: 'E', x0: 57.7, x1: 649, yTop: 916.8, yBot: 1057.8, ymax: 3, axisX: 53, barTop: 1063,
  majors: [2, 0, -2], minors: [3, 1, -1, -3],
  bandHi: ceBandHi, bandLo: ceBandLo, gray: ceGray, dashCols: ceDashCols, dashVals: ceDashVals,
  lines: [{ vals: eRZZ, color: '#1f7be0', width: 3.5 }, { vals: eNdc80, color: '#ee1111', width: 3.5 }],
  box: [ceLo, ceQ1, ceMed, ceQ3, ceHi]
});
[['Ndc80 complex', 970, RED], ['RZZ', 990, BLUE], ['Spindly', 1010, BLUE]].forEach(t => {
  svg.append('text').attr('x', 660).attr('y', t[1]).attr('font-size', 16).attr('fill', t[2]).text(t[0]);
});
</script>
</body>
</html>
